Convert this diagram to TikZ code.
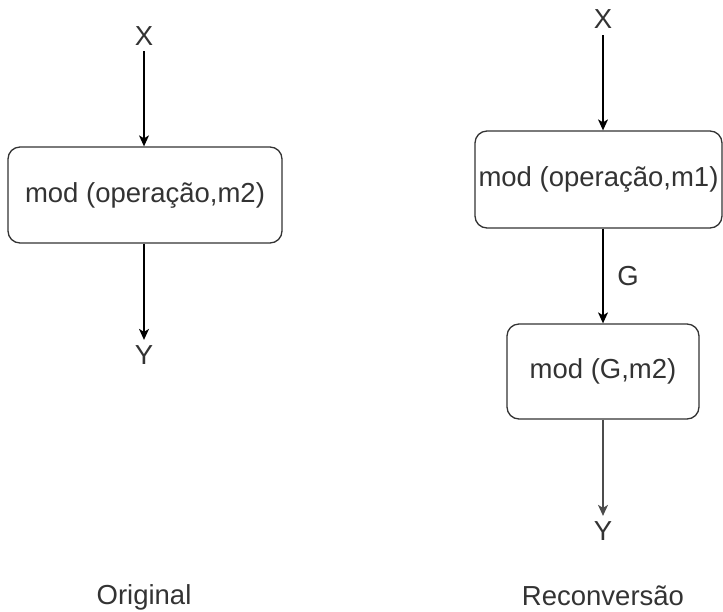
\documentclass[tikz,border=0pt]{standalone}
\usepackage{fontspec}
\setmainfont{Liberation Sans}
\usetikzlibrary{arrows.meta}
\definecolor{ink}{HTML}{333333}
\tikzset{
  every node/.style={font=\fontsize{27.5}{32}\selectfont, text=ink},
  modbox/.style={draw=ink, line width=1.3pt, rounded corners=12pt, inner sep=0pt},
  lbl/.style={inner sep=0pt, anchor=base},
  arr/.style={draw=black, line width=1.3pt, -{Stealth[length=11pt, width=10pt, inset=3pt]}},
}
\begin{document}
\begin{tikzpicture}[x=1pt, y=-1pt]
  \useasboundingbox (0,0) rectangle (723,611);

  % left column: single module
  \node[lbl] (xa) at (144,45) {X};
  \node[modbox, minimum width=274pt, minimum height=96pt] (ma) at (145,195) {mod (operação,m2)};
  \node[lbl] (ya) at (144,364) {Y};
  \node[lbl] (ta) at (144,604) {Original};
  \draw[arr, shorten <=6pt] (xa) -- (xa |- ma.north);
  \draw[arr, shorten >=5pt] (xa |- ma.south) -- (ya.north);

  % right column: two chained modules
  \node[lbl] (xb) at (603,28) {X};
  \node[modbox, minimum width=247pt, minimum height=97pt] (mb) at (598.5,179.5) {mod (operação,m1)};
  \node[modbox, minimum width=192pt, minimum height=95pt] (mc) at (603,371.5) {mod (G,m2)};
  \node[lbl] (yb) at (603,540) {Y};
  \node[lbl] (tb) at (603,605) {Reconversão};
  \node[lbl] (g) at (628,285) {G};
  \draw[arr, shorten <=7pt] (xb.south) -- (xb |- mb.north);
  \draw[arr] (mc.north |- mb.south) -- (mc.north);
  \draw[arr, draw=black!70, shorten >=5pt] (mc.south) -- (yb.north);
\end{tikzpicture}
\end{document}
